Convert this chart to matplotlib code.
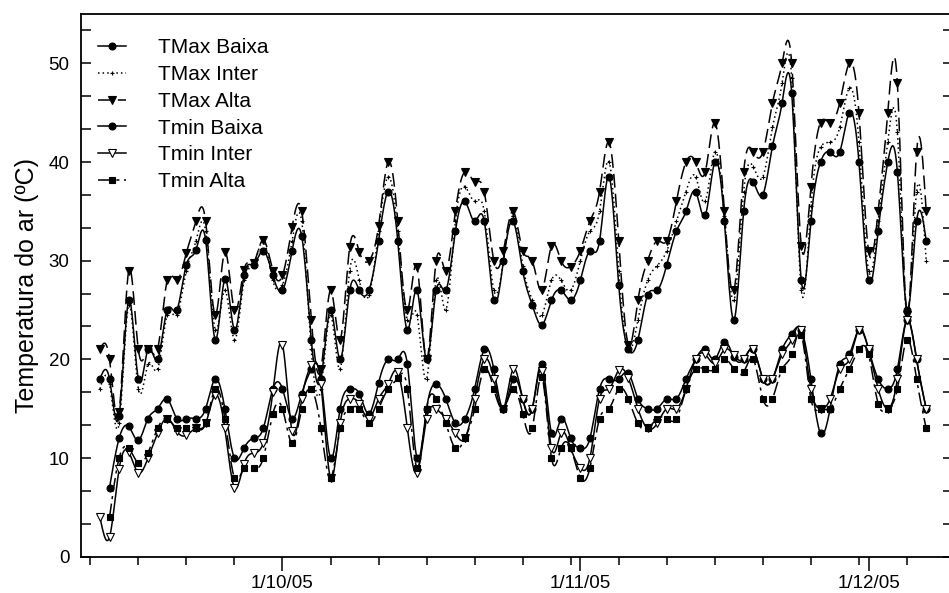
import numpy as np
import pandas as pd
import matplotlib
matplotlib.use("Agg")
import matplotlib.pyplot as plt
import matplotlib.dates as mdates
from matplotlib.lines import Line2D
from matplotlib.ticker import AutoMinorLocator, FixedLocator, FuncFormatter

plt.rcParams['font.family'] = ['Liberation Sans', 'DejaVu Sans']

nan = np.nan
start_date = "2005-09-12"
n_days = 87
dates = pd.date_range(start_date, periods=n_days, freq="D")

tmax_baixa = [18, 18, 14.3, 26, 18, 21, 20, 25, 25, 29.6, 31.1, 32.1, 22, 28.1, 23, 28.5, 29.6, 31, 28.5, 27,
              31, 32.5, 22, 18, 25, 20, 27, 27, 27, 32, 37, 32, 23, 27, 20, 27, 27, 33, 36, 34,
              34, 26, 30, 34, 29, 25.5, 23.5, 26, 27, 26, 28, 31, 32, 38.5, 27.5, 21, 22, 26.5, 27, 29.6,
              33, 35, 37, 34.6, 40, 34, 24, 35, 38, 36.7, 41.6, 46, 47, 28, 34, 40, 41, 41, 45, 40,
              28, 33, 40, 39, 25, 34, 32]
tmax_inter = [17, 17.5, 13.5, 25.5, 17, 19.5, 19, 24.5, 24.5, 29, 32, 33, 23, 27, 22, 28, 29.5, 32, 28, 27.5,
              32, 34, 21, 17, 24.5, 19, 29, 28, 26.5, 33, 38.5, 33, 24, 24.5, 18, 28, 25, 34, 37.5, 36,
              35, 27, 30, 34.5, 29.5, 26, 24.5, 28, 28, 27, 30, 33, 35, 40, 29, 21, 24, 28, 29.5, 31,
              34, 37, 38.5, 36, 41, 34.5, 26, 37, 39.5, 38.5, 43.5, 48, 48.5, 27, 35.5, 41.5, 42, 43.5, 47.5, 42,
              29, 34, 42, 43, 24.5, 37, 30]
tmax_alta = [21, 20, 14.7, 29, 21, 21, 21, 28, 28, 30.8, 34, 34, 24.5, 30.9, 25, 29.1, 29.8, 32.1, 29, 28.5,
             33.4, 35, 24, 19, 27, 22, 31.4, 30.9, 30, 33.5, 40, 34, 25, 29.4, 20, 30, 29, 35, 39, 38,
             37, 30, 31, 35, 31, 30, 27, 31.5, 30, 29.4, 31, 34, 37, 42, 32, 21.5, 26, 30, 32, 32,
             36, 40, 40, 39, 44, 35, 27, 39, 41, 41, 46, 50, 50, 31.5, 37.5, 44, 44, 46, 50, 45,
             31, 35, 45, 48, 24.5, 41, 35]
tmin_baixa = [nan, 7, 12, 13.2, 11.8, 14, 15, 16, 14, 14, 14, 15, 18, 15, 10, 11, 12, 13, 17, 17,
              14, 16.5, 19, 18, 10, 15, 17, 16.5, 14.5, 17.6, 20, 20, 19.5, 10, 15, 17.5, 16, 13.5, 14, 17,
              21, 19, 15, 18, 16, 15, 19.5, 12.5, 14, 12, 11, 12, 17, 18, 18, 18.6, 16, 15, 15, 16,
              16, 18, 20, 21, 20, 21.8, 20.2, 20, 21, 18, 18, 21, 22.6, 23, 18, 12.5, 15, 19.5, 20.5, 23,
              21, 18, 17, 19, 24, 20, 15]
tmin_inter = [4, 2, 8.9, 10.6, 8.5, 10, 12.5, 14, 12.7, 12.3, 13, 13.5, 16.4, 13, 7, 9.4, 10.5, 11.5, 16.7, 21.5,
              12.7, 16, 19.4, 17.5, 8, 13.5, 16, 15.5, 14, 16, 17.5, 18.7, 13, 8.5, 14, 15, 14, 12.5, 12, 16,
              20, 18, 15, 19, 16, 15, 18.8, 11, 12.5, 11, 9, 10, 16, 17, 18.9, 18.1, 15, 13, 13.5, 15,
              15, 17, 20, 20.5, 19.6, 21, 20.4, 20, 21, 18, 18, 20.5, 22, 23, 17, 15, 16, 19, 20, 23,
              21, 17, 15, 18, 24, 20, 15]
tmin_alta = [nan, 4, 10, 11, 9.5, 10.5, 13, 14, 13, 13, 13, 13.5, 17, 14, 8, 9, 9, 10, 14.5, 15,
             11.5, 15, 17, 13, 8, 13, 15, 15, 13.5, 15, 17, 18.1, 17, 9, 15, 16, 13.5, 11, 12, 15,
             19, 17, 15, 17, 14.5, 13, 18.2, 10, 11, 11, 8, 9, 14, 15, 17, 16, 13.5, 13, 14, 14,
             14, 17, 19, 19, 19, 20, 19, 18.7, 20, 16, 16, 19, 20.5, 22.5, 16, 15, 15, 17, 19, 21,
             20.5, 15.5, 15, 17, 22, 18, 13]

labels = ["TMax Baixa", "TMax Inter", "TMax Alta", "Tmin Baixa", "Tmin Inter", "Tmin Alta"]
series = [tmax_baixa, tmax_inter, tmax_alta, tmin_baixa, tmin_inter, tmin_alta]

styles = [
    dict(ls='-', marker='o', mfc='black', ms=5.0, mew=0.8, lw=1.1),
    dict(ls=(0, (1, 2)), marker='+', mfc='black', ms=3.5, mew=0.8, lw=1.1),
    dict(ls=(0, (9, 4)), marker='v', mfc='black', ms=5.5, mew=0.8, lw=1.1),
    dict(ls='-', marker='o', mfc='black', ms=5.0, mew=0.8, lw=1.1),
    dict(ls='-', marker='v', mfc='white', ms=5.5, mew=0.8, lw=1.1),
    dict(ls=(0, (9, 3, 2, 3)), marker='s', mfc='black', ms=4.5, mew=0.8, lw=1.1),
]


def natural_spline(x, y, npts=12):
    x = np.asarray(x, float)
    y = np.asarray(y, float)
    n = len(x)
    if n < 3:
        return x, y
    h = np.diff(x)
    A = np.zeros((n, n))
    r = np.zeros(n)
    A[0, 0] = 1
    A[-1, -1] = 1
    for i in range(1, n - 1):
        A[i, i - 1] = h[i - 1]
        A[i, i] = 2 * (h[i - 1] + h[i])
        A[i, i + 1] = h[i]
        r[i] = 6 * ((y[i + 1] - y[i]) / h[i] - (y[i] - y[i - 1]) / h[i - 1])
    M = np.linalg.solve(A, r)
    xs, ys = [], []
    for i in range(n - 1):
        t = np.linspace(x[i], x[i + 1], npts, endpoint=(i == n - 2))
        a = x[i + 1] - t
        b = t - x[i]
        s = (M[i] * a ** 3 + M[i + 1] * b ** 3) / (6 * h[i]) \
            + (y[i] / h[i] - M[i] * h[i] / 6) * a + (y[i + 1] / h[i] - M[i + 1] * h[i] / 6) * b
        xs.append(t)
        ys.append(s)
    return np.concatenate(xs), np.concatenate(ys)


W, H = 949, 593
fig = plt.figure(figsize=(W / 100, H / 100), dpi=100)
left_px, right_px, top_px, bottom_px = 80.7, 953.0, 14.0, 556.7
ax = fig.add_axes([left_px / W, 1 - bottom_px / H, (right_px - left_px) / W, (bottom_px - top_px) / H])

xnum = mdates.date2num(dates.to_pydatetime())
for vals, lab, st in zip(series, labels, styles):
    v = np.asarray(vals, float)
    ok = ~np.isnan(v)
    xs, ys = natural_spline(xnum[ok], v[ok])
    ax.plot(xs, ys, color='black', ls=st['ls'], lw=st['lw'], zorder=2)
    ax.plot(xnum[ok], v[ok], ls='none', marker=st['marker'], mfc=st['mfc'], mec='black',
            ms=st['ms'], mew=st['mew'], zorder=3)

x0 = mdates.date2num(pd.Timestamp("2005-09-10"))
px_per_day = 9.608
ax.set_xlim(x0, x0 + (right_px - left_px) / px_per_day)
ax.set_ylim(0, 55)

major = mdates.date2num(pd.to_datetime(["2005-10-01", "2005-11-01", "2005-12-01"]).to_pydatetime())
minor = mdates.date2num(pd.date_range("2005-09-01", "2005-12-10", freq="5D").to_pydatetime())
ax.xaxis.set_major_locator(FixedLocator(major))
ax.xaxis.set_minor_locator(FixedLocator(minor))


def fmt(x, pos):
    d = mdates.num2date(x)
    return f"{d.day}/{d.month}/{d:%y}"


ax.xaxis.set_major_formatter(FuncFormatter(fmt))
ax.set_yticks([0, 10, 20, 30, 40, 50])
ax.yaxis.set_minor_locator(AutoMinorLocator(3))

ax.tick_params(axis='x', which='major', direction='out', length=10, width=1.1, labelsize=13.5, pad=3)
ax.tick_params(axis='x', which='minor', direction='out', length=6, width=1.1)
ax.tick_params(axis='y', which='major', direction='in', length=7, width=1.1, labelsize=13.5, right=True, pad=8)
ax.tick_params(axis='y', which='minor', direction='in', length=7, width=1.1, right=True)
for s in ax.spines.values():
    s.set_linewidth(1.3)

ax.set_ylabel("Temperatura do ar (ºC)", fontsize=18, labelpad=7)

handles = [Line2D([], [], color='black', ls=st['ls'], lw=st['lw'], marker=st['marker'], mfc=st['mfc'],
                  mec='black', ms=st['ms'], mew=st['mew']) for st in styles]
ax.legend(handles, labels, loc='upper left', bbox_to_anchor=(0.0196, 0.955), frameon=False,
          fontsize=15, handlelength=1.35, handletextpad=1.55, labelspacing=0.37, borderpad=0,
          borderaxespad=0)

fig.savefig("out.png", dpi=100)
